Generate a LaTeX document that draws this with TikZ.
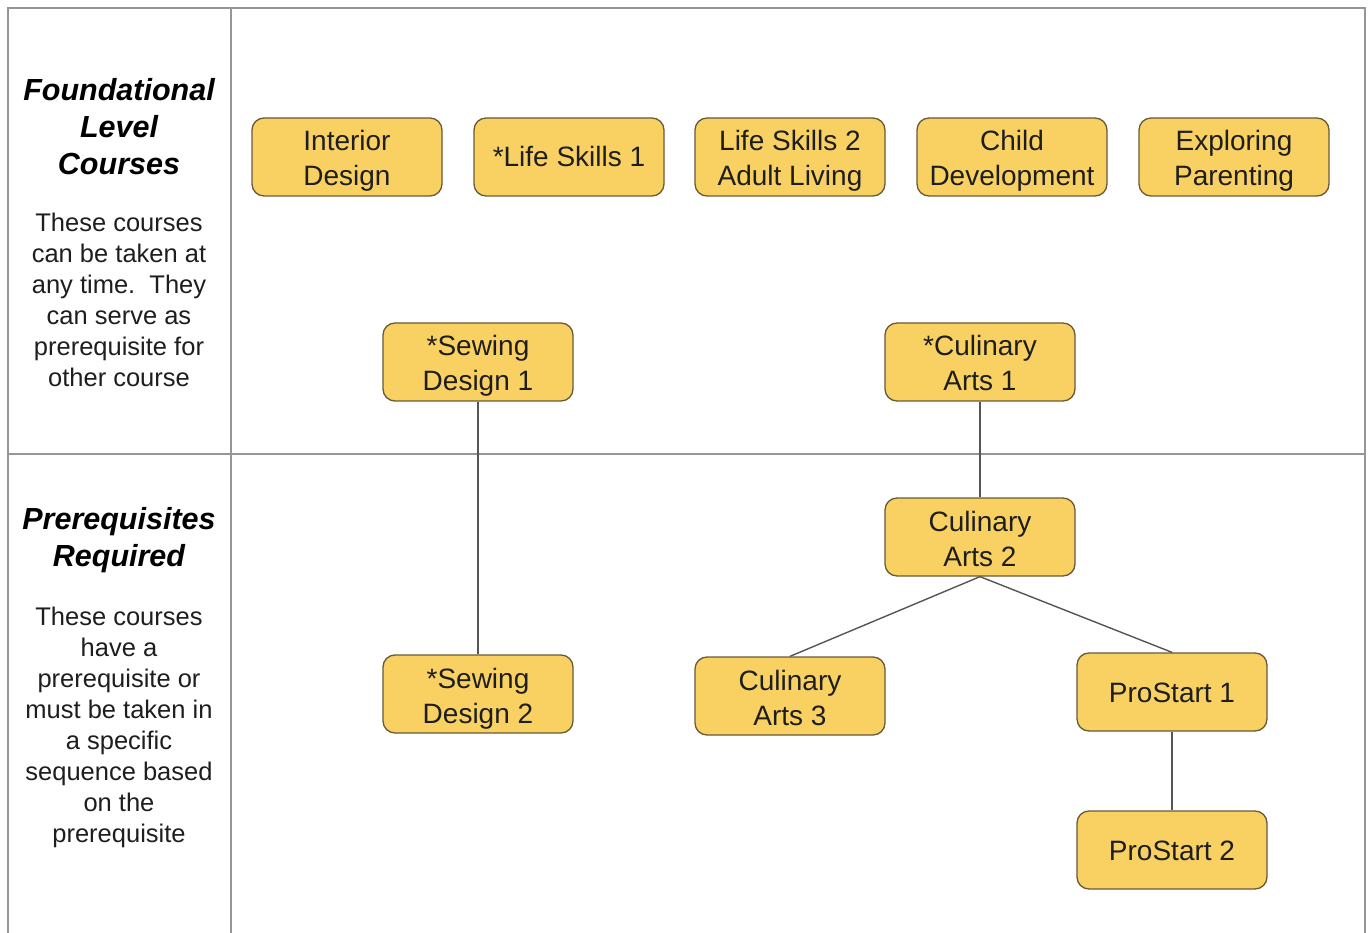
\documentclass[tikz,border=0pt]{standalone}
\usepackage{fontspec}
\setmainfont{Liberation Sans}
\definecolor{boxfill}{RGB}{249,209,99}
\definecolor{boxline}{RGB}{105,90,55}
\definecolor{gridline}{RGB}{150,150,150}
\definecolor{conn}{RGB}{85,85,85}
\definecolor{txt}{RGB}{30,30,30}
\newcommand{\cl}[1]{\begin{tabular}[t]{@{}c@{}}#1\end{tabular}}
\tikzset{
  course/.style={draw=boxline, line width=1.3pt, fill=boxfill, rounded corners=12pt,
    minimum width=190pt, minimum height=78pt, inner sep=0pt,
    text=txt, font=\fontsize{28}{35}\selectfont,
    text height=12pt, text depth=24pt},
  course one/.style={course, text height=20pt, text depth=0pt},
  heading/.style={align=center, inner sep=0pt, text=black,
    font=\fontsize{30.5}{37}\selectfont\bfseries\itshape},
  bodytext/.style={align=center, inner sep=0pt, text=txt,
    font=\fontsize{25.5}{31}\selectfont},
  grid/.style={draw=gridline, line width=2.6pt},
  link/.style={draw=conn, line width=1.4pt}
}
\begin{document}
\begin{tikzpicture}[x=1pt,y=-1pt]
\useasboundingbox (0,0) rectangle (1369,933);
% table frame
\coordinate (tl) at (8,8);
\coordinate (tr) at (1365,8);
\coordinate (bl) at (8,933);
\coordinate (br) at (1365,933);
\coordinate (vt) at (231,8);
\coordinate (vb) at (231,933);
\coordinate (hl) at (8,454);
\coordinate (hr) at (1365,454);
\draw[grid] (bl) -- (tl) -- (tr) -- (br);
\draw[grid] (vt) -- (vb);
\draw[grid] (hl) -- (hr);
% left column
\node[heading] (h1) at (119,127) {Foundational\\Level\\Courses};
\node[bodytext] (b1) at (119,300) {These courses\\can be taken at\\any time.\ \ They\\can serve as\\prerequisite for\\other course};
\node[heading] (h2) at (119,540) {Prerequisites\\Required};
\node[bodytext] (b2) at (119,727) {These courses\\have a\\prerequisite or\\must be taken in\\a specific\\sequence based\\on the\\prerequisite};
% courses
\node[course] (int) at (347,157) {\cl{Interior\\Design}};
\node[course one] (ls1) at (569,157) {*Life Skills 1};
\node[course] (ls2) at (790,157) {\cl{Life Skills 2\\Adult Living}};
\node[course] (cd) at (1012,157) {\cl{Child\\Development}};
\node[course] (ep) at (1234,157) {\cl{Exploring\\Parenting}};
\node[course] (sd1) at (478,362) {\cl{*Sewing\\Design 1}};
\node[course] (ca1) at (980,362) {\cl{*Culinary\\Arts 1}};
\node[course] (ca2) at (980,537) {\cl{Culinary\\Arts 2}};
\node[course] (sd2) at (478,694) {\cl{*Sewing\\Design 2}};
\node[course] (ca3) at (790,696) {\cl{Culinary\\Arts 3}};
\node[course one] (ps1) at (1172,692) {ProStart 1};
\node[course one] (ps2) at (1172,850) {ProStart 2};
% connectors
\draw[link] (sd1.south) -- (sd2.north);
\draw[link] (ca1.south) -- (ca2.north);
\draw[link] (ca2.south) -- (ca3.north);
\draw[link] (ca2.south) -- (ps1.north);
\draw[link] (ps1.south) -- (ps2.north);
\end{tikzpicture}
\end{document}
